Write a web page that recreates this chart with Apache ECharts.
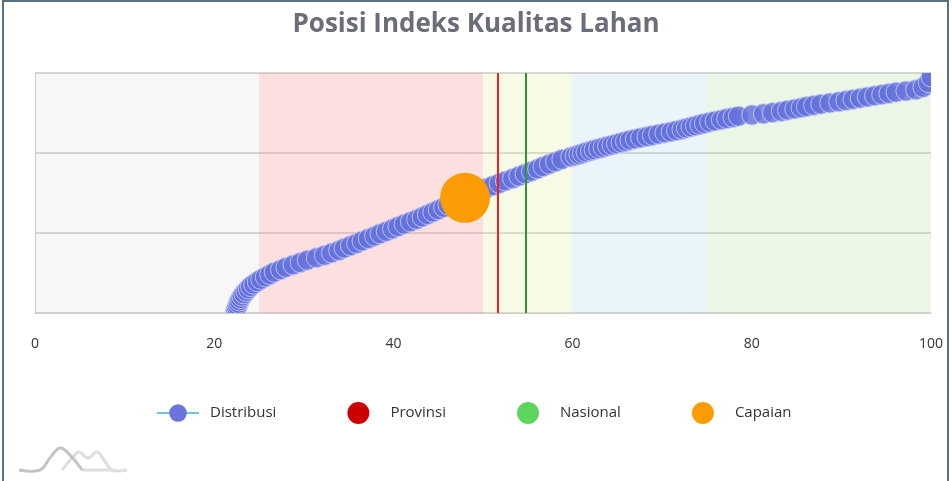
<!DOCTYPE html>
<html>
<head>
<meta charset="utf-8">
<script src="https://cdn.jsdelivr.net/npm/echarts@6/dist/echarts.min.js"></script>
<style>
html,body{margin:0;padding:0;background:#fff;}
#chart{width:952px;height:481px;}
</style>
</head>
<body>
<div id="chart"></div>
<script>
// ---- data ----
const titleText = 'Posisi Indeks Kualitas Lahan';
const xTicks = [0, 20, 40, 60, 80, 100];

// Distribusi: index value (x) and rank (y)
const distX = [22.4,22.5,22.6,22.7,22.8,22.95,23.1,23.3,23.55,23.8,24.05,24.4,24.8,25.2,25.7,26.2,26.7,27.4,28.0,28.8,
  29.6,30.4,31.4,32.3,33.1,33.9,34.5,35.2,35.9,36.5,37.2,37.9,38.5,39.2,39.9,40.5,41.2,41.9,42.6,43.2,
  43.8,44.4,45.0,45.6,46.1,46.7,47.3,47.9,48.4,49.1,49.8,50.4,51.1,51.8,52.5,53.3,54.0,54.7,55.4,56.1,
  56.7,57.4,58.1,58.8,59.8,60.3,60.7,61.1,61.5,62.0,62.4,62.9,63.4,63.9,64.4,64.9,65.4,65.9,66.4,67.0,
  67.6,68.3,68.9,69.6,70.3,71.0,71.6,72.2,72.7,73.2,73.7,74.2,74.7,75.3,75.9,76.6,77.2,77.9,78.5,80.0,
  81.3,82.3,83.3,84.0,84.8,85.5,86.1,86.9,87.7,88.7,89.7,90.5,91.3,92.1,92.9,93.7,94.5,95.3,96.1,97.2,
  98.3,99.1,99.7,100.0];
const distY = [3,6,9,12,15,18,21,24,27,30,33,36,39,42,45,48,51,54,57,60,
  63,66,69,72,75,78,81,84,87,90,93,96,99,102,105,108,111,114,117,120,
  123,126,129,132,135,138,141,144,147,150,153,156,159,162,165,168,171,174,177,180,
  183,186,189,192,195,196.5,198,199.5,201,202.5,204,205.5,207,208.5,210,211.5,213,214.5,216,217.5,
  219,220.5,222,223.5,225,226.5,228,229.5,231,232.5,234,235.5,237,238.5,240,241.5,243,244.5,246,247.5,
  249,250.5,252,253.5,255,256.5,258,259.5,261,262.5,264,265.5,267,268.5,270,271.5,273,274.5,276,277.5,
  279,282,288,295];

const provinsiX = 51.6;
const nasionalX = 54.8;
const capaian = [48.0, 144];

const bandEdges = [0, 25, 50, 60, 75, 100];
const legendNames = ['Distribusi', 'Provinsi', 'Nasional', 'Capaian'];

// ---- chart ----
const bandColors = ['rgba(200,200,200,0.14)', 'rgba(246,150,150,0.3)', 'rgba(225,235,150,0.25)', 'rgba(170,210,240,0.25)', 'rgba(170,225,160,0.25)'];
const bandAreas = [];
for (let i = 0; i < bandEdges.length - 1; i++) {
  bandAreas.push([{xAxis: bandEdges[i], itemStyle: {color: bandColors[i]}}, {xAxis: bandEdges[i + 1]}]);
}
const distData = distX.map((x, i) => [x, distY[i]]);

const chart = echarts.init(document.getElementById('chart'), null, {renderer: 'canvas'});
chart.setOption({
  animation: false,
  backgroundColor: '#fff',
  title: {
    text: titleText, left: 'center', top: 7,
    textStyle: {fontFamily: 'Open Sans', fontWeight: 'bold', fontSize: 26, color: '#6b6d78'}
  },
  grid: {left: 35, right: 21, top: 73, bottom: 168, containLabel: false},
  xAxis: {
    type: 'value', min: 0, max: 100, interval: 20,
    axisLine: {show: true, lineStyle: {color: '#cccccc'}},
    axisTick: {show: false},
    splitLine: {show: false},
    axisLabel: {color: '#333', fontSize: 14, margin: 24, fontFamily: 'Open Sans',
      formatter: v => xTicks.indexOf(v) >= 0 ? String(v) : ''}
  },
  yAxis: {
    type: 'value', min: 0, max: 300, interval: 100,
    axisLine: {show: true, lineStyle: {color: '#cccccc'}},
    axisTick: {show: false},
    axisLabel: {show: false},
    splitLine: {show: true, lineStyle: {color: '#c8c8c8', width: 1.5}}
  },
  legend: {
    data: [
      {name: 'Distribusi'},
      {name: 'Provinsi', icon: 'circle'},
      {name: 'Nasional', icon: 'circle'},
      {name: 'Capaian', icon: 'circle'}
    ],
    left: 151, top: 397, itemWidth: 42, itemHeight: 22, itemGap: 71,
    selectedMode: false,
    textStyle: {color: '#333', fontSize: 15, fontFamily: 'Open Sans', padding: [0, 0, 0, 6]}
  },
  series: [
    {
      name: 'Distribusi', type: 'line', data: [], symbol: 'circle',
      itemStyle: {color: '#6a74dc'}, lineStyle: {color: '#73c0de', width: 2}
    },
    {
      name: 'bands', type: 'line', data: [], silent: true, z: 1,
      markArea: {silent: true, data: bandAreas, label: {show: false}}
    },
    {
      name: 'Distribusi', type: 'custom', clip: true, z: 3,
      data: distData,
      encode: {x: 0, y: 1},
      renderItem: function (params, api) {
        const p = api.coord([api.value(0), api.value(1)]);
        return {
          type: 'circle',
          shape: {cx: p[0], cy: p[1], r: 10},
          style: {fill: 'rgba(100,112,220,0.82)', stroke: 'rgba(195,200,245,0.9)', lineWidth: 1}
        };
      }
    },
    {
      name: 'Provinsi', type: 'line', data: [], z: 4,
      itemStyle: {color: '#cc0000'},
      markLine: {silent: true, symbol: 'none', label: {show: false},
        lineStyle: {color: '#ee2020', width: 2, type: 'solid'},
        data: [{xAxis: provinsiX}]}
    },
    {
      name: 'Nasional', type: 'line', data: [], z: 4,
      itemStyle: {color: '#5dd55d'},
      markLine: {silent: true, symbol: 'none', label: {show: false},
        lineStyle: {color: '#2e962e', width: 2, type: 'solid'},
        data: [{xAxis: nasionalX}]}
    },
    {
      name: 'Capaian', type: 'scatter', z: 5,
      symbolSize: 50,
      itemStyle: {color: '#fb9c05', opacity: 1},
      data: [capaian]
    }
  ],
  graphic: [
    {type: 'rect', silent: true, z: 100, shape: {x: 3, y: 1, width: 945, height: 520},
      style: {fill: 'none', stroke: '#5a6f80', lineWidth: 2}},
    {type: 'polyline', silent: true, z: 100, shape: {points: [[19,470],[40,470],[50,458],[60,448],[70,455],[82,470]], smooth: 0.4},
      style: {fill: 'none', stroke: '#c4c4c4', lineWidth: 3}},
    {type: 'polyline', silent: true, z: 99, shape: {points: [[62,470],[72,458],[79,452],[88,458],[97,452],[104,460],[112,470],[127,470]], smooth: 0.4},
      style: {fill: 'none', stroke: '#dedede', lineWidth: 3}},
    {type: 'line', silent: true, z: 98, shape: {x1: 82, y1: 470, x2: 112, y2: 470},
      style: {stroke: '#dedede', lineWidth: 3}}
  ]
});
</script>
</body>
</html>
